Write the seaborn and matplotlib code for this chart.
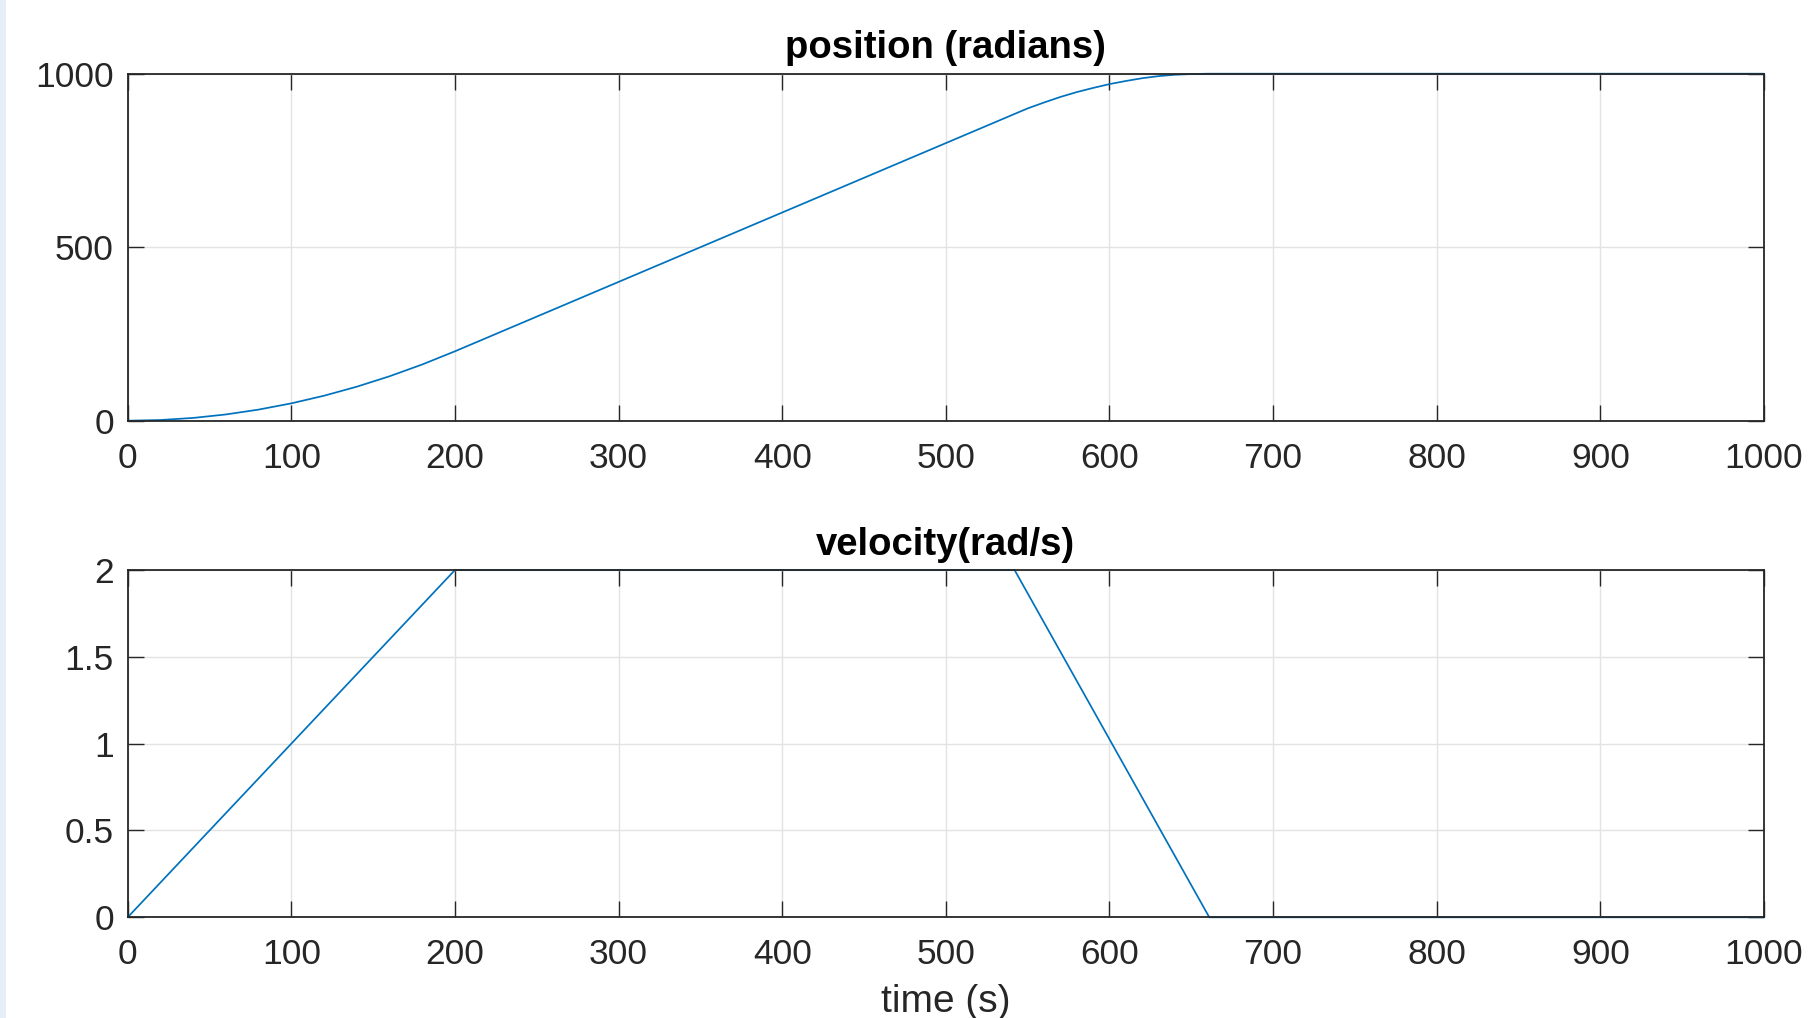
import matplotlib
matplotlib.use("Agg")
import matplotlib.pyplot as plt
import pandas as pd
import seaborn as sns

# values
pos_time = [0, 20, 40, 60, 80, 100, 120, 140, 160, 180, 200, 300, 400, 500,
            540, 550, 560, 570, 580, 590, 600, 610, 620, 630, 640, 650, 660, 1000]
pos_rad = [0, 2, 8, 18, 32, 50, 72, 98, 128, 162, 200, 400, 600, 800,
           880, 900, 917, 933, 947, 959, 970, 979, 987, 993, 997, 999, 1000, 1000]

vel_time = [0, 200, 542, 661, 1000]
vel_rad_s = [0, 2, 2, 0, 0]

x_ticks = [0, 100, 200, 300, 400, 500, 600, 700, 800, 900, 1000]
pos_ticks = [0, 500, 1000]
vel_ticks = [0, 0.5, 1, 1.5, 2]

pos_df = pd.DataFrame({"time": pos_time, "position": pos_rad})
vel_df = pd.DataFrame({"time": vel_time, "velocity": vel_rad_s})

sns.set_theme(style="white")
plt.rcParams["font.family"] = ["Liberation Sans", "DejaVu Sans"]

line_color = "#0072BD"
axis_color = "#262626"

fig = plt.figure(figsize=(18.16, 10.18), dpi=100)
fig.patch.set_facecolor("white")
# light strip on the left edge of the screenshot
fig.patches.append(plt.Rectangle((0, 0), 6 / 1816, 1, transform=fig.transFigure,
                                 facecolor="#e6eef8", edgecolor="none", zorder=0))

W, H = 1816, 1018
left, right = 127.7 / W, 1764 / W
ax1 = fig.add_axes([left, 1 - 420.7 / H, right - left, (420.7 - 73.7) / H])
ax2 = fig.add_axes([left, 1 - 917.3 / H, right - left, (917.3 - 570) / H])


def style_axis(ax, yticks, ylim, ylabels):
    ax.set_xlim(0, 1000)
    ax.set_ylim(*ylim)
    ax.set_xticks(x_ticks)
    ax.set_xticklabels([str(t) for t in x_ticks])
    ax.set_yticks(yticks)
    ax.set_yticklabels(ylabels)
    ax.grid(True, color="#e3e3e3", linewidth=1.0)
    ax.set_axisbelow(True)
    for sp in ax.spines.values():
        sp.set_visible(True)
        sp.set_color(axis_color)
        sp.set_linewidth(1.3)
    ax.tick_params(axis="both", direction="in", length=11.5, width=1.0,
                   colors=axis_color, labelsize=25.5, top=True, right=True,
                   bottom=True, left=True)
    ax.tick_params(axis="x", pad=15)
    ax.tick_params(axis="y", pad=10)
    ax.set_xlabel("")
    ax.set_ylabel("")


sns.lineplot(data=pos_df, x="time", y="position", ax=ax1,
             color=line_color, linewidth=1.25)
style_axis(ax1, pos_ticks, (0, 1000), ["0", "500", "1000"])
ax1.set_title("position (radians)", fontsize=27.5, fontweight="bold", pad=11,
              color="black")

sns.lineplot(data=vel_df, x="time", y="velocity", ax=ax2,
             color=line_color, linewidth=1.25)
style_axis(ax2, vel_ticks, (0, 2), ["0", "0.5", "1", "1.5", "2"])
ax2.set_title("velocity(rad/s)", fontsize=27.5, fontweight="bold", pad=11,
              color="black")
ax2.set_xlabel("time (s)", fontsize=28, color=axis_color, labelpad=9)

for ax in (ax1, ax2):
    for ln in ax.get_lines():
        ln.set_clip_on(False)

fig.savefig("out.png", dpi=100)
